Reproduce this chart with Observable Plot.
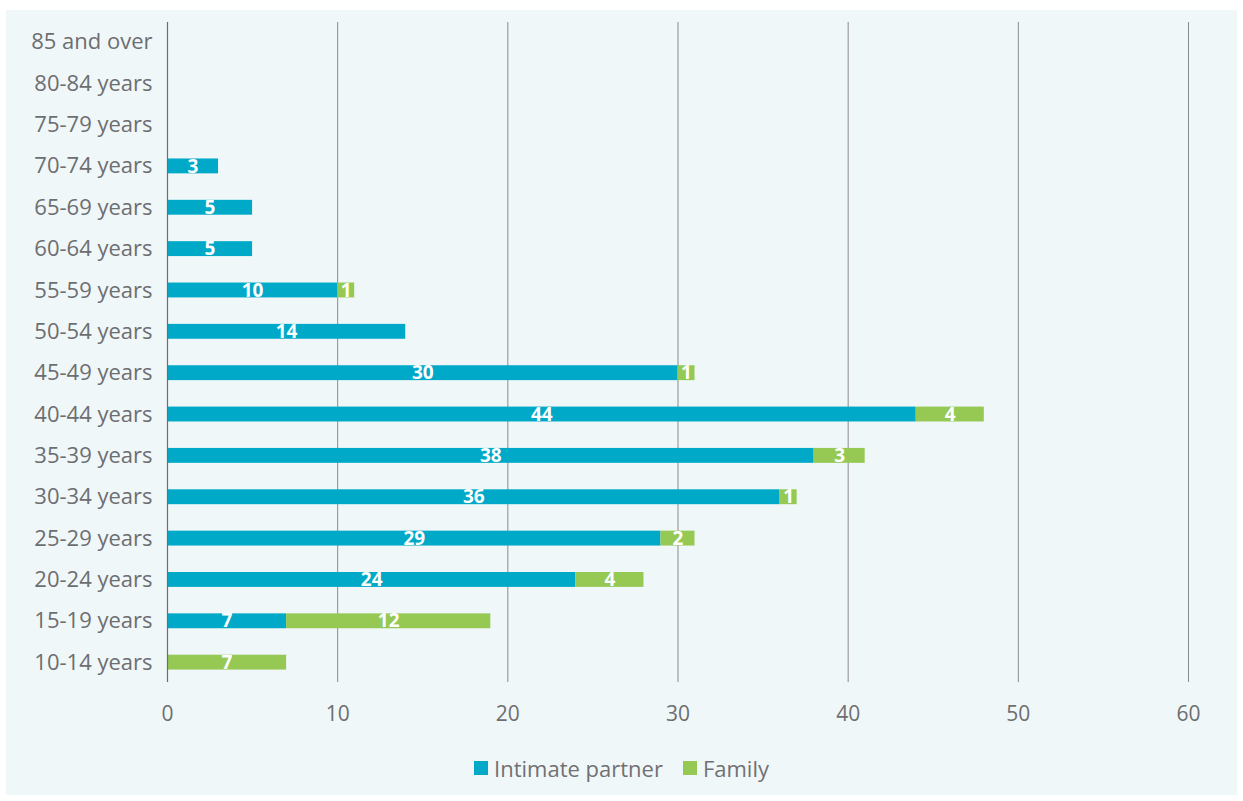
<!DOCTYPE html>
<html>
<head>
<meta charset="utf-8">
<script src="https://cdn.jsdelivr.net/npm/d3@7"></script>
<script src="https://cdn.jsdelivr.net/npm/@observablehq/plot@0.6"></script>
<style>
  html, body { margin: 0; padding: 0; background: #ffffff; }
  #panel { position: absolute; left: 6px; top: 10px; width: 1231px; height: 785px; background: #f0f7f9; font-family: "Open Sans", sans-serif; }
  #chart { position: absolute; left: 0; top: 0; }
  #legend { position: absolute; left: 0; top: 743px; width: 100%; display: flex; justify-content: center; align-items: center; font-size: 22px; color: #707173; }
  .item { display: flex; align-items: center; margin: 0 10px; }
  .sw { width: 14px; height: 14px; margin-right: 6px; display: inline-block; }
</style>
</head>
<body>
<div id="panel">
  <div id="chart"></div>
  <div id="legend"></div>
</div>
<script>
const ages = ["85 and over","80-84 years","75-79 years","70-74 years","65-69 years","60-64 years","55-59 years","50-54 years","45-49 years","40-44 years","35-39 years","30-34 years","25-29 years","20-24 years","15-19 years","10-14 years"];
const intimatePartner = [0,0,0,3,5,5,10,14,30,44,38,36,29,24,7,0];
const family = [0,0,0,0,0,0,1,0,1,4,3,1,2,4,12,7];
const seriesNames = ["Intimate partner","Family"];
const seriesColors = ["#00a9c7","#95c954"];
const xTicks = [0,10,20,30,40,50,60];

const data = [];
ages.forEach((a, i) => {
  data.push({age: a, type: seriesNames[0], value: intimatePartner[i]});
  data.push({age: a, type: seriesNames[1], value: family[i]});
});
const labelled = data.filter(d => d.value > 0);

const chart = Plot.plot({
  width: 1231,
  height: 730,
  marginLeft: 161,
  marginRight: 49,
  marginTop: 12,
  marginBottom: 58,
  style: {background: "transparent", fontFamily: "Open Sans, sans-serif", color: "#6d6e70"},
  x: {domain: [0, 60], ticks: xTicks, label: null, tickSize: 0, tickPadding: 24, tickFormat: d3.format("d")},
  y: {domain: ages, label: null, tickSize: 0, tickPadding: 15, paddingInner: 0.64, paddingOuter: 0.30, round: false},
  color: {domain: seriesNames, range: seriesColors},
  marks: [
    Plot.ruleX(xTicks.slice(1), {stroke: "#8a8b8d", strokeWidth: 1, strokeOpacity: 1}),
    Plot.barX(data, Plot.stackX({x: "value", y: "age", fill: "type", order: seriesNames})),
    Plot.ruleX([0], {stroke: "#6d6e70", strokeWidth: 1.2}),
    Plot.text(labelled, Plot.stackX({x: "value", y: "age", z: "type", order: seriesNames, text: d => String(d.value), fill: "white", fontWeight: "bold", fontSize: 19})),
  ]
});
chart.querySelectorAll("g[aria-label='y-axis tick label']").forEach(g => { g.setAttribute("font-size", "22"); g.setAttribute("fill", "#6d6e70"); });
chart.querySelectorAll("g[aria-label='x-axis tick label']").forEach(g => { g.setAttribute("font-size", "21"); g.setAttribute("fill", "#6d6e70"); });
document.getElementById("chart").appendChild(chart);

const legend = document.getElementById("legend");
seriesNames.forEach((n, i) => {
  const it = document.createElement("div");
  it.className = "item";
  const sw = document.createElement("span");
  sw.className = "sw";
  sw.style.background = seriesColors[i];
  it.appendChild(sw);
  it.appendChild(document.createTextNode(n));
  legend.appendChild(it);
});
</script>
</body>
</html>
